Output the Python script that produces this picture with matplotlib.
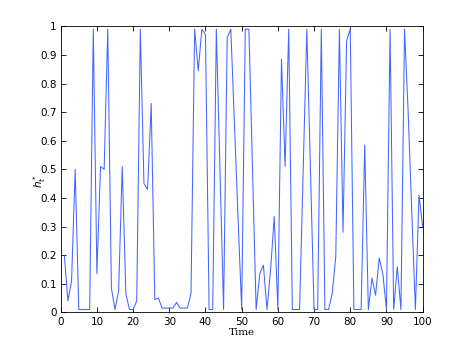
import numpy as np
import matplotlib
matplotlib.use("Agg")
import matplotlib.pyplot as plt

# time steps 1..100
time = np.arange(1, 101)
h_t = [0.20, 0.04, 0.11, 0.50, 0.01, 0.01, 0.01, 0.01, 0.99, 0.135,
       0.51, 0.50, 0.99, 0.085, 0.01, 0.075, 0.51, 0.065, 0.01, 0.01,
       0.04, 0.99, 0.45, 0.43, 0.73, 0.045, 0.05, 0.015, 0.015, 0.015,
       0.015, 0.035, 0.015, 0.015, 0.015, 0.065, 0.99, 0.845, 0.99, 0.97,
       0.01, 0.01, 0.99, 0.50, 0.01, 0.96, 0.99, 0.66, 0.33, 0.01,
       0.99, 0.99, 0.50, 0.01, 0.135, 0.165, 0.01, 0.15, 0.335, 0.01,
       0.885, 0.51, 0.99, 0.01, 0.01, 0.01, 0.50, 0.99, 0.50, 0.01,
       0.01, 0.99, 0.01, 0.01, 0.065, 0.195, 0.99, 0.28, 0.95, 0.99,
       0.01, 0.01, 0.01, 0.585, 0.01, 0.12, 0.06, 0.19, 0.135, 0.01,
       0.99, 0.01, 0.16, 0.01, 0.99, 0.70, 0.35, 0.01, 0.41, 0.30]

xticks = np.arange(0, 101, 10)
yticks = np.round(np.arange(0, 1.01, 0.1), 1)
ytick_labels = ["0"] + ["%.1f" % v for v in yticks[1:-1]] + ["1"]

fig = plt.figure(figsize=(4.67, 3.51), dpi=100)
ax = fig.add_axes([0.13, 0.11, 0.775, 0.815])
ax.plot(time, h_t, color="#4466ff", lw=0.75)

ax.set_xlim(0, 100)
ax.set_ylim(0, 1)
ax.set_xticks(xticks)
ax.set_yticks(yticks)
ax.set_yticklabels(ytick_labels)
ax.tick_params(direction="in", length=3.5, width=0.6, labelsize=7.5,
               top=True, right=True, pad=3)
for s in ax.spines.values():
    s.set_linewidth(0.6)

ax.set_xlabel("Time", family="DejaVu Serif", fontsize=7.5, labelpad=1)
ax.set_ylabel(r"$h_t^*$", fontsize=7.5)
ax.yaxis.set_label_coords(-0.035, 0.46)

fig.savefig("out.png", dpi=100)
